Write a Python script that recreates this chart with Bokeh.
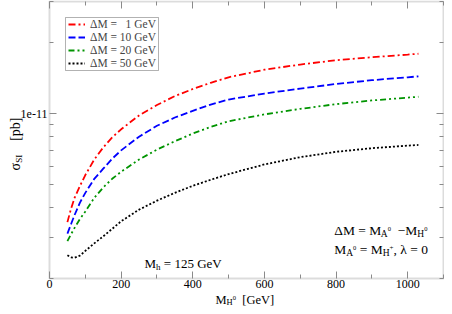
import math
from bokeh.plotting import figure
from bokeh.models import (Range1d, LinearAxis, LogAxis, FixedTicker, Label, Legend, LegendItem,
                          BoxAnnotation)
from bokeh.embed import file_html
from bokeh.resources import INLINE

# ---- data ----
x_mh0 = [50, 60, 70, 85, 100, 125, 150, 175, 200, 250, 300, 350, 400, 450, 500, 600, 700, 800, 900, 1000, 1030]
sigma_dm1 = [3.47, 3.95, 4.40, 4.94, 5.50, 6.40, 7.20, 7.95, 8.60, 9.85, 10.9, 11.9, 12.75, 13.55, 14.3, 15.4, 16.2, 16.9, 17.4, 17.85, 18.0]
sigma_dm10 = [3.10, 3.40, 3.72, 4.20, 4.62, 5.30, 5.85, 6.45, 7.00, 8.00, 8.90, 9.65, 10.3, 10.95, 11.5, 12.2, 12.8, 13.4, 13.9, 14.3, 14.43]
sigma_dm20 = [2.88, 3.08, 3.28, 3.58, 3.85, 4.40, 4.87, 5.30, 5.68, 6.40, 7.05, 7.65, 8.25, 8.80, 9.30, 9.95, 10.5, 11.0, 11.4, 11.72, 11.82]
sigma_dm50 = [2.51, 2.46, 2.45, 2.50, 2.62, 2.82, 3.02, 3.25, 3.50, 3.92, 4.28, 4.62, 4.95, 5.25, 5.55, 6.10, 6.55, 6.90, 7.15, 7.33, 7.38]
y_unit = 1e-12

x_lim = [0, 1100]
y_lim = [2e-12, 3e-11]
x_major_ticks = [0, 200, 400, 600, 800, 1000]
x_minor_ticks = [100, 300, 500, 700, 900, 1100]
y_major_ticks = [1e-11]
y_minor_ticks = [2e-12, 3e-12, 4e-12, 5e-12, 6e-12, 7e-12, 8e-12, 9e-12, 2e-11, 3e-11]
y_tick_labels = {1e-11: "1e-11"}

legend_labels = ["\u0394M =\u00a0\u00a0\u00a01 GeV", "\u0394M = 10 GeV", "\u0394M = 20 GeV", "\u0394M = 50 GeV"]
line_colors = ["#ff0000", "#0000ff", "#009400", "#000000"]
line_dashes = ["7 3 2 3", "7 3", "6 3 2 3 2 3", "2 2"]

FONT = "Liberation Serif"
GRAY = "#8a8a8a"

# ---- layout: the frame fills the canvas, the plot box sits inside it ----
CW, CH = 444, 306
BOX_L, BOX_R, BOX_T, BOX_B = 49, 443, 1, 278
sx_per = (BOX_R - BOX_L) / (x_lim[1] - x_lim[0])
x_start = x_lim[0] - BOX_L / sx_per
x_end = x_lim[1] + (CW - BOX_R) / sx_per
dec = math.log10(y_lim[1] / y_lim[0])
sy_per = (BOX_B - BOX_T) / dec
y_start = y_lim[0] * 10 ** (-(CH - BOX_B) / sy_per)
y_end = y_lim[1] * 10 ** (BOX_T / sy_per)

p = figure(width=CW, height=CH, x_range=Range1d(x_start, x_end), y_range=Range1d(y_start, y_end),
           y_axis_type="log", output_backend="svg", toolbar_location=None,
           min_border=0, min_border_left=0, min_border_right=0, min_border_top=0, min_border_bottom=0,
           title_location=None)
p.background_fill_color = "white"
p.border_fill_color = "white"
p.outline_line_color = None
p.grid.visible = False


def style_axis(ax, labels=True):
    ax.axis_line_color = None
    ax.major_tick_in = 7
    ax.major_tick_out = 0
    ax.minor_tick_in = 4
    ax.minor_tick_out = 0
    ax.major_tick_line_color = GRAY
    ax.minor_tick_line_color = GRAY
    ax.major_label_text_font = FONT
    ax.major_label_text_color = "black"
    ax.major_label_text_font_size = "12px"
    ax.major_label_standoff = 1
    if not labels:
        ax.major_label_text_alpha = 0


xt = FixedTicker(ticks=x_major_ticks, minor_ticks=x_minor_ticks)
yt = FixedTicker(ticks=y_major_ticks, minor_ticks=y_minor_ticks)

xb = p.xaxis[0]
xb.ticker = xt
xb.fixed_location = y_lim[0]
style_axis(xb)
yl = p.yaxis[0]
yl.ticker = yt
yl.fixed_location = x_lim[0]
yl.major_label_overrides = y_tick_labels
style_axis(yl)
yl.major_label_standoff = 2

top_axis = LinearAxis(ticker=xt, fixed_location=y_lim[1])
style_axis(top_axis, labels=False)
p.add_layout(top_axis, "above")
right_axis = LogAxis(ticker=yt, fixed_location=x_lim[1])
style_axis(right_axis, labels=False)
p.add_layout(right_axis, "right")

renderers = []
for ys, c, d in zip([sigma_dm1, sigma_dm10, sigma_dm20, sigma_dm50], line_colors, line_dashes):
    r = p.line(x_mh0, [v * y_unit for v in ys], line_color=c, line_width=1.8, line_dash=d)
    renderers.append(r)

p.add_layout(BoxAnnotation(left=x_lim[0], right=x_lim[1], bottom=y_lim[0], top=y_lim[1],
                           fill_alpha=0, line_color=GRAY, line_width=2, level="overlay"))

# ---- legend: framed box with one row per series ----
LEG_L, LEG_R, LEG_T, LEG_B = 65, 158, 17, 70
p.add_layout(BoxAnnotation(left=LEG_L, right=LEG_R, top=CH - LEG_T, bottom=CH - LEG_B,
                           left_units="screen", right_units="screen", top_units="screen", bottom_units="screen",
                           fill_color="white", fill_alpha=1, line_color="black", line_width=1))
ROW_H = 16
row_step = (LEG_B - LEG_T - 2 * 7) / (len(legend_labels) - 1)
for i, (lab, r) in enumerate(zip(legend_labels, renderers)):
    center = LEG_T + 7 + i * row_step
    p.add_layout(Legend(items=[LegendItem(label=lab, renderers=[r])],
                        location=(LEG_L + 3, CH - center - ROW_H / 2), padding=0, spacing=0, margin=0,
                        label_text_font=FONT, label_text_font_size="11.5px",
                        glyph_width=17, glyph_height=ROW_H, label_height=ROW_H, label_standoff=5,
                        border_line_color=None, background_fill_alpha=0))

# Times-like advance widths (per 1000 em)
W = {' ': 250, 'M': 889, 'h': 500, '=': 564, 'G': 722, 'e': 444, 'V': 722, '[': 333, ']': 333,
     'A': 722, 'H': 722, '\u0394': 612, '\u2212': 564, '+': 564, ',': 250, '\u03bb': 549,
     '\u03c3': 549, 'S': 556, 'I': 333, 'p': 500, 'b': 500}


def tw(s, size):
    return sum(W.get(ch, 500) for ch in s) / 1000.0 * size


def rich(pieces, sx, sy, angle=0.0):
    pos = 0.0
    for txt, size, shift in pieces:
        lead = len(txt) - len(txt.lstrip(' '))
        body = txt.strip(' ')
        pos += tw(' ' * lead, size)
        if body:
            if angle == 0.0:
                lx, ly = sx + pos, sy + shift
            else:
                lx, ly = sx - shift, sy + pos
            p.add_layout(Label(x=lx, y=ly, x_units="screen", y_units="screen", text=body, angle=angle,
                               text_font=FONT, text_font_size=f"{size}px", text_color="black",
                               text_baseline="alphabetic", text_align="left"))
        pos += tw(body, size) + tw(' ' * (len(txt) - lead - len(body)), size)


rich([("\u0394M = M", 13.5, 0), ("A", 9.5, -3), ("0", 6.5, 2), ("  \u2212M", 13.5, 0), ("H", 9.5, -3), ("0", 6.5, 2)], 333.7, 76)
rich([("M", 13.5, 0), ("A", 9.5, -3), ("0", 6.5, 2), (" = M", 13.5, 0), ("H", 9.5, -3), ("+", 7, 2), (", \u03bb = 0", 13.5, 0)], 333.7, 57)
rich([("M", 13, 0), ("h", 9, -3), (" = 125 GeV", 13, 0)], 144, 43)
rich([("M", 12.5, 0), ("H", 8.5, -2.5), ("0", 6.5, 2), ("  [GeV]", 12.5, 0)], 215, 7)
rich([("\u03c3", 14, 0), ("SI", 9, -3), ("    [pb]", 14, 0)], 15, 136, angle=math.pi / 2)

open("out.html", "w").write(file_html(p, INLINE))
